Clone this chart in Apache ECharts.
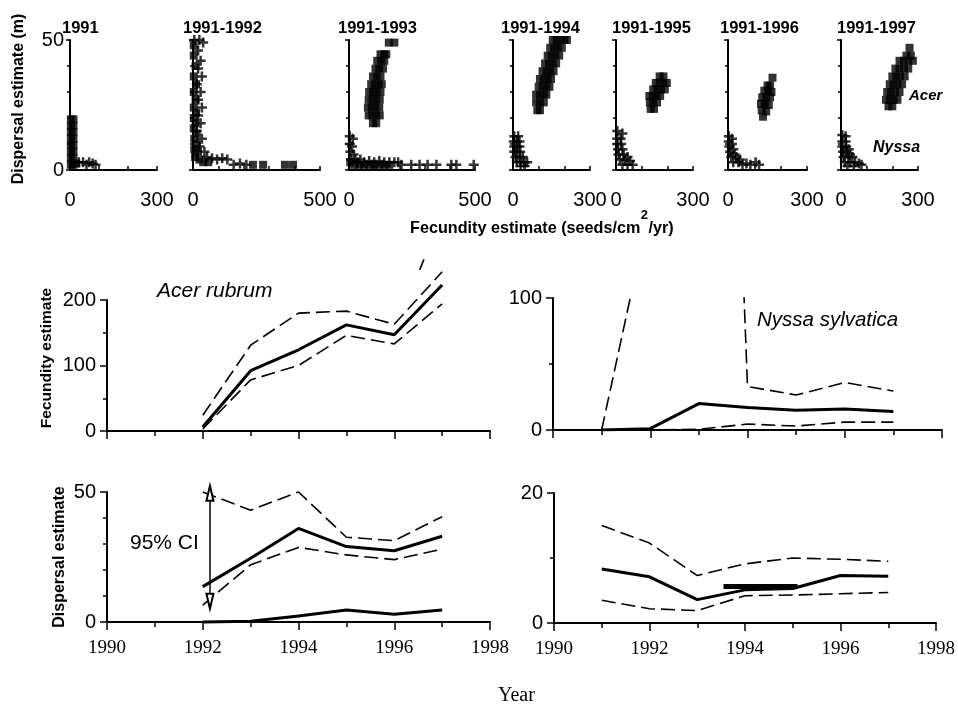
<!DOCTYPE html>
<html><head><meta charset="utf-8">
<script src="https://cdn.jsdelivr.net/npm/echarts@6/dist/echarts.min.js"></script>
<style>html,body{margin:0;padding:0;background:#fff}#c{width:958px;height:706px}</style>
</head><body><div id="c"></div>
<script>
// ---------- data ----------
const panelTitles = ['1991','1991-1992','1991-1993','1991-1994','1991-1995','1991-1996','1991-1997'];
const panelXMax = [300,500,500,300,300,300,300];
const panelXMinor = [3,5,5,3,3,3,3];

const acer91 = [[3,19.5],[12,19.5],[3,17],[12,17],[3,14.5],[12,14.5],[3,12],[12,12],[3,9.5],[12,9.5],[3,7],[12,7],[3,4.5],[12,4.5],[3,2],[12,2],[22,2.5]];
const nyssa91 = [[30,3],[45,3],[57,2],[66,3],[78,2.5],[88,2]];
const acer92 = [[3,48],[3,44],[10,40],[3,36],[12,33],[3,30],[10,27],[3,24],[12,22],[3,20],[10,18],[3,16],[15,14],[5,12],[15,10],[5,8],[20,7],[8,5],[25,4],[40,3],[60,3],[236,2],[276,2],[362,2],[394,2]];
const nyssa92 = [[5,50],[25,50],[40,49],[20,46],[30,42],[20,39],[35,36],[15,33],[30,30],[20,27],[35,24],[20,21],[30,18],[15,15],[35,12],[25,9],[45,7],[55,5],[75,4.5],[95,4],[115,4.5],[135,4],[160,2],[185,2.5],[210,2]];
const acer93 = [[95,18],[108,18],[78,21],[92,21],[108,21],[122,21],[75,24],[90,24],[105,24],[120,24],[78,27],[93,27],[108,27],[122,27],[80,30],[95,30],[110,30],[125,30],[88,33],[102,33],[118,33],[130,33],[95,36],[110,36],[125,36],[105,39],[120,39],[135,39],[112,42],[128,42],[140,42],[125,44.5],[140,44.5],[148,44.5],[158,49],[180,49],
  [5,3],[20,2],[40,2],[60,2],[80,2],[100,2],[120,2],[140,2],[160,2]];
const nyssa93 = [[3,13],[15,12],[3,10],[12,9],[5,7],[18,6],[8,4],[25,4],[35,3],[45,4],[60,3],[80,3.5],[100,3],[120,3.5],[140,3],[160,3],[180,3],[195,3],[208,2],[247,2],[280,2],[312,2],[347,2],[406,2],[426,2],[495,2]];
const acer94 = [[95,23],[105,23],[90,26],[105,26],[120,26],[90,29],[105,29],[120,29],[130,29],[100,32],[115,32],[130,32],[142,32],[105,35],[120,35],[135,35],[148,35],[115,38],[130,38],[145,38],[158,38],[125,41],[140,41],[155,41],[168,41],[135,44],[150,44],[165,44],[180,44],[145,47],[160,47],[175,47],[190,47],[155,50],[170,50],[185,50],[200,50],[210,50]];
const nyssa94 = [[5,13],[20,13],[3,11],[15,11],[25,11],[5,9],[15,9],[25,9],[5,7],[15,7],[28,7],[10,5],[25,5],[38,5],[15,3],[30,3],[45,3],[55,3],[30,1.5],[45,1.5]];
const acer95 = [[135,23.5],[148,23.5],[132,26],[145,26],[160,26],[130,28.5],[143,28.5],[158,28.5],[172,28.5],[145,31],[160,31],[175,31],[190,31],[155,33.5],[170,33.5],[185,33.5],[198,33.5],[170,36],[185,36]];
const nyssa95 = [[5,15],[25,14],[5,12],[18,12],[5,10],[20,10],[8,8],[25,8],[10,6],[30,6],[45,5],[15,4],[35,4],[55,3.5],[25,2],[45,2],[65,2]];
const acer96 = [[133,20.5],[128,23],[145,22.5],[125,25.5],[140,25.5],[155,25],[130,28],[145,28],[160,28],[138,30.5],[153,30.5],[165,30],[150,32.5],[160,32.5],[169,35.5]];
const nyssa96 = [[3,13],[15,12],[3,11],[15,10],[5,9],[20,8],[8,7],[25,6],[12,5],[32,5],[45,4],[20,3],[40,3],[55,2],[70,2.5],[85,2],[105,3],[118,2]];
const acer97 = [[185,24.5],[200,24.5],[175,27],[190,27],[205,27],[220,27],[180,30],[195,30],[210,30],[228,30],[190,33],[205,33],[220,33],[238,33],[200,36],[215,36],[230,36],[248,36],[212,39],[228,39],[245,39],[262,39],[228,42],[245,42],[262,42],[280,42],[255,44],[272,44],[267,47]];
const nyssa97 = [[5,13.5],[18,13],[5,11],[18,11],[5,9],[20,9],[30,8],[8,7],[22,7],[35,6],[10,5],[28,5],[45,5],[15,3],[35,3],[55,3],[70,2.5],[80,2],[25,1.5],[50,1.5]];
const acerPanels = [acer91,acer92,acer93,acer94,acer95,acer96,acer97];
const nyssaPanels = [nyssa91,nyssa92,nyssa93,nyssa94,nyssa95,nyssa96,nyssa97];

const years = [1991,1992,1993,1994,1995,1996,1997];
const acerFecMean  = [null,6,92,124,162,147,223];
const acerFecUpper = [null,24,131,180,183,163,243];
const acerFecLower = [null,3,78,100,146,133,194];
const acerFecUpperTail = [[1996.53,246],[1996.62,262]];
const nyssaFecMean  = [0,1,20,17,15,16,14];
const nyssaFecUpper = [0,170,990,33,26.5,36,29.5];
const nyssaFecLower = [0,0,0.5,4.5,3,6,6];
const acerDispMean  = [null,13.6,24.5,36,29,27.4,33];
const acerDispUpper = [null,50,43,50,32.6,31.3,40.5];
const acerDispLower = [null,6.5,22,28.7,25.8,24,28];
const acerDispLow2  = [null,0,0.3,2.3,4.6,3,4.6];
const nyssaDispMean  = [8.3,7.1,3.6,5.1,5.3,7.3,7.2];
const nyssaDispUpper = [15,12.3,7.3,9.1,10,9.8,9.5];
const nyssaDispLower = [3.5,2.2,1.9,4.2,4.3,4.5,4.7];
const nyssaDispBar = [[1993.55,5.6],[1995.1,5.6]];
const ciArrow = {x:1992.15, from:49.5, to:8};

// ---------- layout ----------
const SANS = '"Liberation Sans", Arial, sans-serif';
const SERIF = '"Liberation Serif", "Times New Roman", serif';
const topLeft = [70,193,349,513,616,728,841];
const topWidth = [87,127,126,77,77,79,77];
const grids = [];
for (let i=0;i<7;i++) grids.push({left:topLeft[i], top:40, width:topWidth[i], height:130});
grids.push({left:107, top:300, width:383, height:131});   // 7 Acer fecundity
grids.push({left:553, top:298, width:389, height:132});   // 8 Nyssa fecundity
grids.push({left:107, top:492, width:383, height:130});   // 9 Acer dispersal
grids.push({left:554, top:493, width:388, height:130});   // 10 Nyssa dispersal

const axLine = {show:true, onZero:false, lineStyle:{color:'#000', width:2}};
const xAxes = [], yAxes = [];
for (let i=0;i<7;i++){
  xAxes.push({type:'value', gridIndex:i, min:0, max:panelXMax[i], interval:panelXMax[i],
    axisLine:axLine, axisTick:{show:true, inside:true, length:4, lineStyle:{color:'#000',width:1.5}},
    minorTick:{show:true, splitNumber:panelXMinor[i], length:4, lineStyle:{color:'#000',width:1.5}},
    splitLine:{show:false}, minorSplitLine:{show:false},
    axisLabel:{color:'#000', fontFamily:SANS, fontSize:20, margin:20, formatter:v=>String(v)}});
  yAxes.push({type:'value', gridIndex:i, min:0, max:50, interval:50,
    axisLine:axLine, axisTick:{show:true, length:4, lineStyle:{color:'#000',width:1.5}},
    minorTick:{show:true, splitNumber:5, length:3, lineStyle:{color:'#000',width:1.5}},
    splitLine:{show:false}, minorSplitLine:{show:false},
    axisLabel:{show:i===0, color:'#000', fontFamily:SANS, fontSize:20, margin:6}});
}
function yearAxis(g, showLabel){
  return {type:'value', gridIndex:g, min:1990, max:1998, interval:2,
    axisLine:axLine, axisTick:{show:true, length:8, lineStyle:{color:'#000',width:1.5}},
    minorTick:{show:true, splitNumber:2, length:5, lineStyle:{color:'#000',width:1.5}},
    splitLine:{show:false}, minorSplitLine:{show:false},
    axisLabel:{show:showLabel, color:'#000', fontFamily:SERIF, fontSize:19, margin:17, formatter:v=>String(v)}};
}
function valAxis(g, max, interval, minor, family){
  return {type:'value', gridIndex:g, min:0, max:max, interval:interval,
    axisLine:axLine, axisTick:{show:true, length:7, lineStyle:{color:'#000',width:1.5}},
    minorTick:{show:true, splitNumber:minor, length:4, lineStyle:{color:'#000',width:1.5}},
    splitLine:{show:false}, minorSplitLine:{show:false},
    axisLabel:{color:'#000', fontFamily:family||SANS, fontSize:20, margin:11}};
}
xAxes.push(yearAxis(7,false), yearAxis(8,false), yearAxis(9,true), yearAxis(10,true));
yAxes.push(valAxis(7,200,100,2), valAxis(8,100,100,2), valAxis(9,50,50,5), valAxis(10,20,20,2));

const series = [];
const PLUS = 'path://M3,0H5V3H8V5H5V8H3V5H0V3H3Z';
for (let i=0;i<7;i++){
  series.push({type:'scatter', xAxisIndex:i, yAxisIndex:i, data:acerPanels[i], symbol:'rect', symbolSize:8,
    itemStyle:{color:'#000'}, silent:true});
  series.push({type:'scatter', xAxisIndex:i, yAxisIndex:i, data:nyssaPanels[i], symbol:PLUS, symbolSize:10,
    itemStyle:{color:'#000'}, silent:true});
}
function pairs(vals){ return years.map((y,i)=> vals[i]==null ? null : [y, vals[i]]).filter(Boolean); }
function line(g, data, kind, clip, extra){
  const s = {type:'line', xAxisIndex:g, yAxisIndex:g, data:data, symbol:'none', clip:clip, silent:true,
    lineStyle: kind==='solid' ? {color:'#000', width:3} : {color:'#000', width:1.6, type:[14,6]}};
  return Object.assign(s, extra||{});
}
series.push(line(7, pairs(acerFecMean), 'solid', false));
series.push(line(7, pairs(acerFecUpper), 'dash', false));
series.push(line(7, pairs(acerFecLower), 'dash', false));
series.push(line(7, acerFecUpperTail, 'dash', false));
series.push(line(8, pairs(nyssaFecMean), 'solid', true));
series.push(line(8, pairs(nyssaFecUpper), 'dash', true));
series.push(line(8, pairs(nyssaFecLower), 'dash', true));
series.push(line(9, pairs(acerDispMean), 'solid', false, {
  markLine:{silent:true, symbol:['emptyTriangle','emptyTriangle'], symbolSize:[7,15], label:{show:false},
    lineStyle:{color:'#000', width:1.5, type:'solid'},
    data:[[{coord:[ciArrow.x, ciArrow.from]},{coord:[ciArrow.x, ciArrow.to]}]]}}));
series.push(line(9, pairs(acerDispUpper), 'dash', false));
series.push(line(9, pairs(acerDispLower), 'dash', false));
series.push(line(9, pairs(acerDispLow2), 'solid', false));
series.push(line(10, pairs(nyssaDispMean), 'solid', false));
series.push(line(10, pairs(nyssaDispUpper), 'dash', false));
series.push(line(10, pairs(nyssaDispLower), 'dash', false));
series.push(line(10, nyssaDispBar, 'solid', false, {lineStyle:{color:'#000', width:5}}));

function txt(x, y, text, font, opts){
  return Object.assign({type:'text', x:x, y:y, silent:true,
    style:{text:text, font:font, fill:'#000', textAlign:'left', textVerticalAlign:'middle'}}, opts||{});
}
const mctx = document.createElement('canvas').getContext('2d');
function measure(text, font){ mctx.font = font; return mctx.measureText(text).width; }

const graphic = [];
panelTitles.forEach((t,i)=>{
  const xs=[62,183,338,501,612,720,837];
  graphic.push(txt(xs[i], 28, t, 'bold 16.5px '+SANS));
});
graphic.push({type:'text', x:19, y:99, rotation:Math.PI/2, silent:true,
  style:{text:'Dispersal estimate (m)', font:'bold 16px '+SANS, fill:'#000', textAlign:'center', textVerticalAlign:'middle'}});
graphic.push({type:'text', x:47, y:358, rotation:Math.PI/2, silent:true,
  style:{text:'Fecundity estimate', font:'bold 15.5px '+SANS, fill:'#000', textAlign:'center', textVerticalAlign:'middle'}});
graphic.push({type:'text', x:60, y:557, rotation:Math.PI/2, silent:true,
  style:{text:'Dispersal estimate', font:'bold 16px '+SANS, fill:'#000', textAlign:'center', textVerticalAlign:'middle'}});
// x title with superscript
const xtMain = 'Fecundity estimate (seeds/cm', xtSup = '2', xtEnd = '/yr)';
const xtFont = 'bold 16.2px '+SANS, xtSupFont = 'bold 13px '+SANS;
const xt0 = 410, w1 = measure(xtMain, xtFont), w2 = measure(xtSup, xtSupFont);
graphic.push(txt(xt0, 229, xtMain, xtFont));
graphic.push(txt(xt0 + w1 + 0.5, 215, xtSup, xtSupFont));
graphic.push(txt(xt0 + w1 + w2 + 1, 229, xtEnd, xtFont));

graphic.push(txt(157, 291, 'Acer rubrum', 'italic 21px '+SANS));
graphic.push(txt(757, 320, 'Nyssa sylvatica', 'italic 20.5px '+SANS));
graphic.push(txt(909, 96, 'Acer', 'italic bold 15px '+SANS));
graphic.push(txt(873, 148, 'Nyssa', 'italic bold 16px '+SANS));
graphic.push(txt(130, 543, '95% CI', '21px '+SANS));
graphic.push(txt(498, 696, 'Year', '20px '+SERIF));

const chart = echarts.init(document.getElementById('c'), null, {renderer:'canvas'});
chart.setOption({animation:false, backgroundColor:'#fff', grid:grids, xAxis:xAxes, yAxis:yAxes, series:series, graphic:graphic});
</script></body></html>
